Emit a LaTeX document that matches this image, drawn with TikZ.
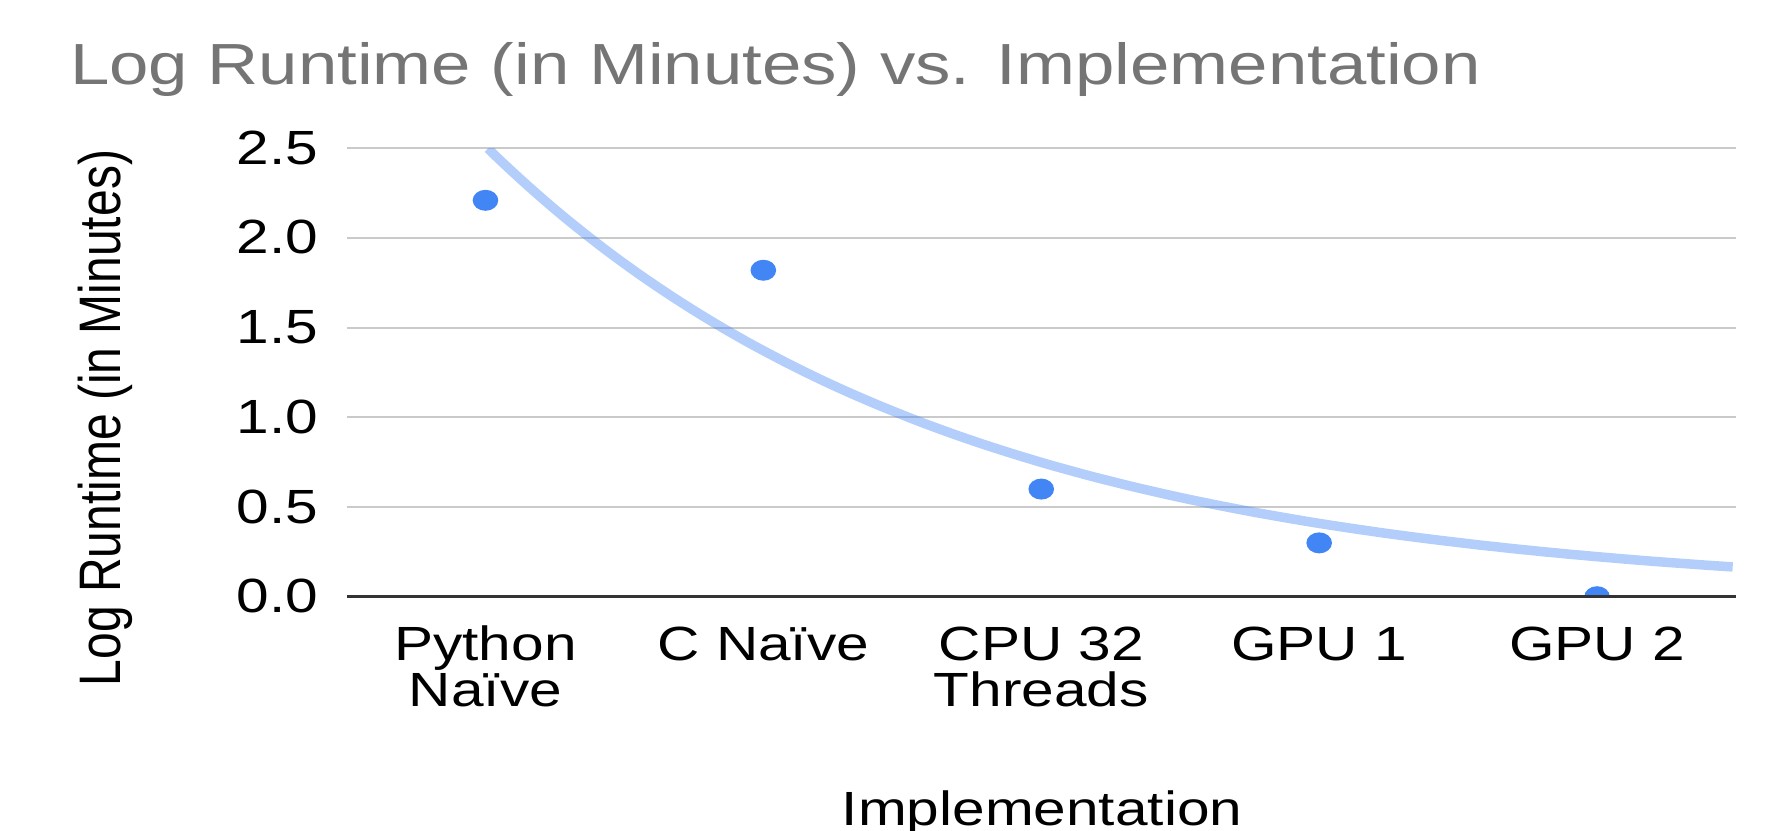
\documentclass[tikz,border=0pt]{standalone}
\usepackage{fontspec}
\setmainfont{Liberation Sans}[FakeStretch=1.22]
\newfontfamily\uprightsans{Liberation Sans}
\usetikzlibrary{shapes.geometric}
\definecolor{titlegray}{HTML}{757575}
\definecolor{gridgray}{HTML}{CACACA}
\definecolor{axisdark}{HTML}{333333}
\definecolor{series}{HTML}{4285F4}

\begin{document}
\begin{tikzpicture}[x=1pt,y=1pt,
  ticklabel/.style={font=\fontsize{48}{46}\selectfont, inner sep=0, anchor=base east},
  catlabel/.style={font=\fontsize{48}{46}\selectfont, inner sep=0, anchor=base, align=center},
  axistitle/.style={font=\fontsize{48}{46}\selectfont, inner sep=0, anchor=base},
  charttitle/.style={font=\fontsize{58}{58}\selectfont, text=titlegray, inner sep=0, anchor=base west},
  gridline/.style={draw=gridgray, line width=2},
  zeroline/.style={draw=axisdark, line width=2.6},
  datapoint/.style={ellipse, fill=series, minimum width=25.6, minimum height=21, inner sep=0},
  trendline/.style={draw=series, draw opacity=0.4, line width=9.5}
]
\useasboundingbox (0,0) rectangle (1784,830);

% chart title
\node[charttitle] (title) at (70,745) {Log Runtime (in Minutes) vs. Implementation};

% axis titles
\node[axistitle, font=\fontsize{48}{46}\uprightsans, xscale=1.22, rotate=90] (ytitle) at (120,412) {Log Runtime (in Minutes)};
\node[axistitle] (xtitle) at (1042,4.5) {Implementation};

% plot area: one unit = one category horizontally, 1.0 of log runtime vertically
\begin{scope}[shift={(346.5,233.3)}, x=277.9pt, y=179.36pt]
  % horizontal gridlines and their labels
  \foreach \v [count=\i] in {0.5,1.0,1.5,2.0,2.5}
    \draw[gridline] (0,\v) -- (5,\v);
  \foreach \v [count=\i] in {0.0,0.5,1.0,1.5,2.0,2.5}
    \node[ticklabel, xshift=-28pt, yshift=-16pt] (tick\i) at (0,\v) {\v};

  % exponential trendline
  \begin{scope}
    \clip (0,0) rectangle (5,2.5);
    \draw[trendline] plot[domain=0.509:4.989, samples=100, smooth]
      (\x, {4.60*exp(-0.605*(\x+0.5))});
  \end{scope}

  % data points, cut off at the zero line
  \begin{scope}
    \clip (-0.2,0) rectangle (5.2,2.8);
    \node[datapoint] (p1) at (0.5,2.21) {};
    \node[datapoint] (p2) at (1.5,1.82) {};
    \node[datapoint] (p3) at (2.5,0.60) {};
    \node[datapoint] (p4) at (3.5,0.30) {};
    \node[datapoint] (p5) at (4.5,0.00) {};
  \end{scope}

  % zero line
  \coordinate (zl) at (0,0);
  \coordinate (zr) at (5,0);
  \draw[zeroline] (zl) -- (zr);

  % category labels (base anchor sits on the last line)
  \node[catlabel, yshift=-109.3pt] (c1) at (0.5,0) {Python\\Naïve};
  \node[catlabel, yshift=-63.3pt] (c2) at (1.5,0) {C Naïve};
  \node[catlabel, yshift=-109.3pt] (c3) at (2.5,0) {CPU 32\\Threads};
  \node[catlabel, yshift=-63.3pt] (c4) at (3.5,0) {GPU 1};
  \node[catlabel, yshift=-63.3pt] (c5) at (4.5,0) {GPU 2};
\end{scope}
\end{tikzpicture}
\end{document}
